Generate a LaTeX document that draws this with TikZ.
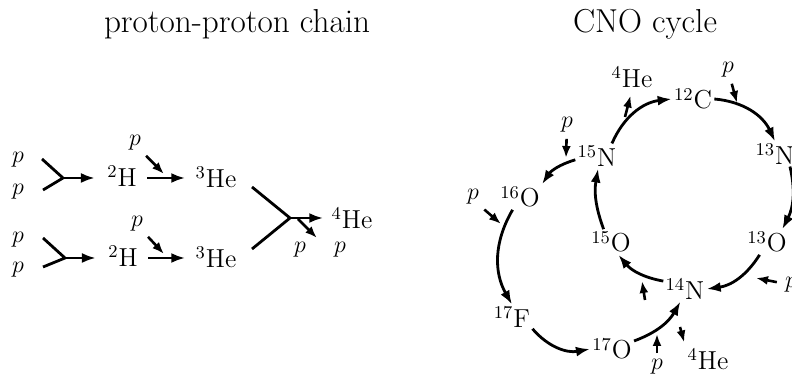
\documentclass[tikz,border=0pt]{standalone}
\usetikzlibrary{arrows.meta,positioning,calc}

\begin{document}
\begin{tikzpicture}[x=0.5pt, y=-0.5pt,
    nuc/.style={font=\fontsize{13}{15}\selectfont, inner sep=1pt},
    heading/.style={font=\fontsize{16.6}{20}\selectfont, anchor=base},
    flow/.style={-{Latex[length=7pt, width=5pt]}, line width=1.4pt},
    hit/.style={-{Latex[length=6pt, width=4.5pt]}, line width=1.3pt},
    leg/.style={line width=1.4pt}
  ]
    \useasboundingbox (0,0) rectangle (792,378);
    \clip (0,0) rectangle (792,378);

    % titles
    \node[heading] (ppTitle) at (237,33) {proton-proton chain};
    \node[heading] (cnoTitle) at (645,33) {CNO cycle};

    % proton-proton chain
    \node[nuc] (pA1) at (18,160) {$p$};
    \node[nuc] (pA2) at (18,192) {$p$};
    \node[nuc] (pB1) at (18,240) {$p$};
    \node[nuc] (pB2) at (18,270) {$p$};
    \coordinate (yA1) at (42,159);
    \coordinate (yA2) at (43,190);
    \coordinate (jA) at (63,178);
    \coordinate (yB1) at (43,238);
    \coordinate (yB2) at (43,267);
    \coordinate (jB) at (65,258);

    \node[nuc] (H2a) at (122,176) {$^2$H};
    \node[nuc] (H2b) at (123,256) {$^2$H};
    \node[nuc] (pA3) at (135,143) {$p$};
    \node[nuc] (pB3) at (137,224) {$p$};
    \node[nuc] (He3a) at (216,177) {$^3$He};
    \node[nuc] (He3b) at (216,257) {$^3$He};
    \coordinate (mA) at (164,174);
    \coordinate (mB) at (164,254);

    \coordinate (kA) at (252,187);
    \coordinate (kB) at (252,249);
    \coordinate (jC) at (290,218);
    \coordinate (jC2) at (298,219);
    \coordinate (tC) at (317,238);
    \node[nuc] (He4) at (352,218) {$^4$He};
    \node[nuc] (pC1) at (300,250) {$p$};
    \node[nuc] (pC2) at (340,250) {$p$};

    \draw[leg] (yA1) -- (jA) -- (yA2);
    \draw[leg] (yB1) -- (jB) -- (yB2);
    \draw[flow, shorten >=5pt] (jA) -- (H2a.west |- jA);
    \draw[flow, shorten >=5pt] (jB) -- (H2b.west |- jB);
    \draw[flow, shorten <=4pt, shorten >=4pt] (H2a.east |- jA) -- (He3a.west |- jA);
    \draw[flow, shorten <=4pt, shorten >=4pt] (H2b.east |- jB) -- (He3b.west |- jB);
    \draw[hit, shorten <=2pt] (pA3.south east) -- (mA);
    \draw[hit, shorten <=2pt] (pB3.south east) -- (mB);
    \draw[leg] (kA) -- (jC) -- (kB);
    \draw[flow, shorten >=3pt] (jC) -- (He4.west |- jC);
    \draw[hit] (jC2) -- (tC);

    % CNO cycle
    \node[nuc] (C12) at (693,99) {$^{12}$C};
    \node[nuc] (N13) at (775,154) {$^{13}$N};
    \node[nuc] (O13) at (767,242) {$^{13}$O};
    \node[nuc] (N14) at (685,289) {$^{14}$N};
    \node[nuc] (O15) at (611,242) {$^{15}$O};
    \node[nuc] (N15) at (597,156) {$^{15}$N};
    \node[nuc] (O16) at (520,197) {$^{16}$O};
    \node[nuc] (F17) at (512,317) {$^{17}$F};
    \node[nuc] (O17) at (612,349) {$^{17}$O};
    \node[nuc] (He4t) at (632,77) {$^4$He};
    \node[nuc] (He4b) at (708,359) {$^4$He};
    \node[nuc] (pC12) at (728,70) {$p$};
    \node[nuc] (pN15) at (567,125) {$p$};
    \node[nuc] (pO16) at (473,197) {$p$};
    \node[nuc] (pO17) at (657,367) {$p$};
    \node[nuc] (pO13) at (791,285) {$p$};

    \draw[flow] (N15.40) to[bend left=30] (C12.west);
    \draw[flow] (C12.east) to[bend left=30] (N13.north);
    \draw[flow] (N13.-40) to[bend left=20] (O13.40);
    \draw[flow] (O13.-120) to[bend left=25] (N14.east);
    \draw[flow] (N14.160) to[bend left=20] (O15.-60);
    \draw[flow] (O15.120) to[bend left=15] (N15.-85);
    \draw[flow] (N15.190) to[bend right=20] (O16.north east);
    \draw[flow] (O16.-120) to[bend right=30] (F17.north);
    \draw[flow] (F17.-30) to[bend right=30] (O17.west);
    \draw[flow] (O17.20) to[bend right=20] (N14.-110);

    \coordinate (aHe4t) at (625,117);
    \coordinate (aC12) at (737,103);
    \coordinate (aN15) at (566,158);
    \coordinate (aO16) at (501,224);
    \coordinate (aO17) at (657,334);
    \coordinate (aHe4b) at (680,327);
    \coordinate (eO15a) at (645,300);
    \coordinate (eO15b) at (642,281);
    \coordinate (aO13) at (756,278);

    \draw[hit, shorten >=3pt] (aHe4t) -- (He4t.south);
    \draw[hit, shorten <=2pt] (pC12) -- (aC12);
    \draw[hit, shorten <=2pt] (pN15) -- (aN15);
    \draw[hit, shorten <=2pt] (pO16.south east) -- (aO16);
    \draw[hit, shorten <=2pt] (pO17.north) -- (aO17);
    \draw[hit, shorten >=2pt] (aHe4b) -- (He4b.north west);
    \draw[hit] (eO15a) -- (eO15b);
    \draw[hit, shorten <=3pt] (pO13) -- (aO13);
  \end{tikzpicture}
\end{document}
